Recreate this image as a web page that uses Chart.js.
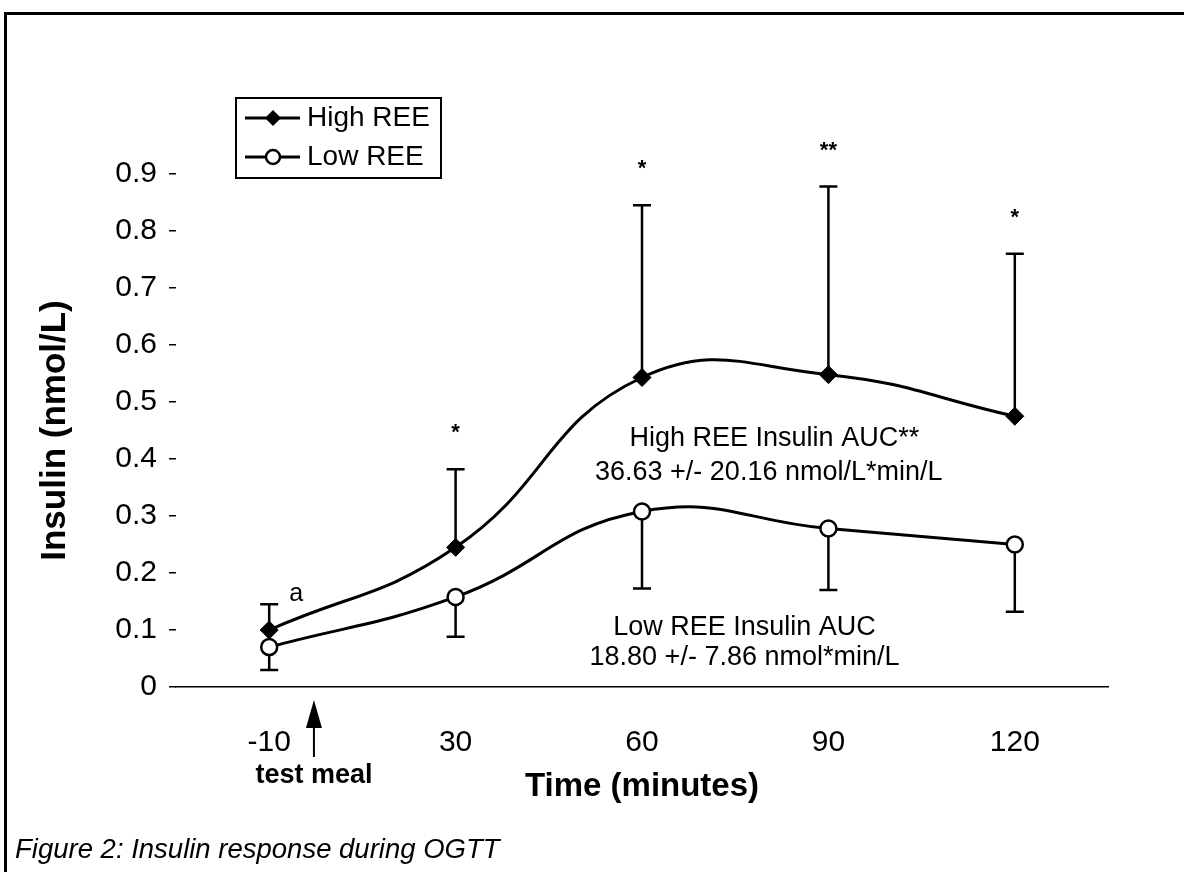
<!DOCTYPE html>
<html>
<head>
<meta charset="utf-8">
<title>Insulin response during OGTT</title>
<script src="https://cdn.jsdelivr.net/npm/chart.js@4.4.1/dist/chart.umd.min.js"></script>
<style>
html, body { margin: 0; padding: 0; background: #fff; overflow: hidden; }
#wrap { position: relative; width: 1184px; height: 872px; }
#insulinChart { display: block; }
</style>
</head>
<body>
<div id="wrap"><canvas id="insulinChart" width="1184" height="872"></canvas></div>
<script>
// values
const TIME_LABELS = ['-10', '30', '60', '90', '120'];
const HIGH_REE = [0.10, 0.245, 0.543, 0.548, 0.475];
const HIGH_REE_SD_UP = [0.145, 0.382, 0.845, 0.878, 0.76];
const LOW_REE = [0.07, 0.158, 0.308, 0.278, 0.25];
const LOW_REE_SD_DOWN = [0.03, 0.088, 0.173, 0.17, 0.132];
const SIG_MARKS = ['a', '*', '*', '**', '*'];
const Y_TICKS = [0, 0.1, 0.2, 0.3, 0.4, 0.5, 0.6, 0.7, 0.8, 0.9];
const AUC_HIGH = ['High REE Insulin AUC**', '36.63 +/- 20.16 nmol/L*min/L'];
const AUC_LOW = ['Low REE Insulin AUC', '18.80 +/- 7.86 nmol*min/L'];
const MEAL_LABEL = 'test meal';
const CAPTION = 'Figure 2: Insulin response during OGTT';

const FONT = "'Liberation Sans', Arial, Helvetica, sans-serif";
Chart.defaults.font.family = FONT;
Chart.defaults.color = '#000';

// page frame (top + left rule) and white background
const framePlugin = {
  id: 'frame',
  beforeDraw(chart) {
    const ctx = chart.ctx;
    ctx.save();
    ctx.fillStyle = '#fff';
    ctx.fillRect(0, 0, chart.width, chart.height);
    ctx.strokeStyle = '#000';
    ctx.lineWidth = 3;
    ctx.beginPath();
    ctx.moveTo(5.5, chart.height);
    ctx.lineTo(5.5, 13.5);
    ctx.lineTo(chart.width + 5, 13.5);
    ctx.stroke();
    ctx.restore();
  }
};

// one-sided SD bars, drawn under the lines and markers
const errorBarPlugin = {
  id: 'errorBars',
  beforeDatasetsDraw(chart) {
    const ctx = chart.ctx;
    const yScale = chart.scales.y;
    ctx.save();
    ctx.strokeStyle = '#000';
    ctx.lineWidth = 2.5;
    chart.data.datasets.forEach((ds, di) => {
      const meta = chart.getDatasetMeta(di);
      ds.errEnds.forEach((v, i) => {
        const pt = meta.data[i];
        const yEnd = yScale.getPixelForValue(v);
        ctx.beginPath();
        ctx.moveTo(pt.x, pt.y);
        ctx.lineTo(pt.x, yEnd);
        ctx.moveTo(pt.x - 9, yEnd);
        ctx.lineTo(pt.x + 9, yEnd);
        ctx.stroke();
      });
    });
    ctx.restore();
  }
};

// significance marks, AUC notes, meal arrow, legend box, caption
const notesPlugin = {
  id: 'notes',
  afterDraw(chart) {
    const ctx = chart.ctx;
    const xScale = chart.scales.x;
    const yScale = chart.scales.y;
    const high = chart.getDatasetMeta(0);
    ctx.save();
    ctx.fillStyle = '#000';
    ctx.strokeStyle = '#000';

    SIG_MARKS.forEach((m, i) => {
      const x = high.data[i].x;
      const top = yScale.getPixelForValue(HIGH_REE_SD_UP[i]);
      ctx.textBaseline = 'alphabetic';
      if (m === 'a') {
        ctx.font = '25px ' + FONT;
        ctx.textAlign = 'left';
        ctx.fillText(m, x + 20, top - 3);
      } else {
        ctx.font = 'bold 22px ' + FONT;
        ctx.textAlign = 'center';
        ctx.fillText(m, x, top - 30);
      }
    });

    ctx.font = '27px ' + FONT;
    ctx.textAlign = 'center';
    ctx.textBaseline = 'middle';
    ctx.fillText(AUC_HIGH[0], xScale.getPixelForValue(2.71), yScale.getPixelForValue(0.436));
    ctx.fillText(AUC_HIGH[1], xScale.getPixelForValue(2.68), yScale.getPixelForValue(0.377));
    ctx.fillText(AUC_LOW[0], xScale.getPixelForValue(2.55), yScale.getPixelForValue(0.105));
    ctx.fillText(AUC_LOW[1], xScale.getPixelForValue(2.55), yScale.getPixelForValue(0.051));

    // meal given at t = 0, about a quarter of the way from -10 to 30
    const mx = xScale.getPixelForValue(0.24);
    const b = chart.chartArea.bottom;
    ctx.beginPath();
    ctx.moveTo(mx, b + 13);
    ctx.lineTo(mx - 8, b + 41);
    ctx.lineTo(mx + 8, b + 41);
    ctx.closePath();
    ctx.fill();
    ctx.lineWidth = 2;
    ctx.beginPath();
    ctx.moveTo(mx, b + 38);
    ctx.lineTo(mx, b + 70);
    ctx.stroke();
    ctx.font = 'bold 27px ' + FONT;
    ctx.fillText(MEAL_LABEL, mx, b + 89);

    // legend
    ctx.lineWidth = 2;
    ctx.strokeRect(236, 98, 205, 80);
    const rows = [118, 157];
    chart.data.datasets.forEach((ds, di) => {
      const ry = rows[di];
      ctx.lineWidth = 3;
      ctx.beginPath();
      ctx.moveTo(245, ry);
      ctx.lineTo(300, ry);
      ctx.stroke();
      if (ds.pointStyle === 'rectRot') {
        ctx.beginPath();
        ctx.moveTo(273, ry - 8);
        ctx.lineTo(281, ry);
        ctx.lineTo(273, ry + 8);
        ctx.lineTo(265, ry);
        ctx.closePath();
        ctx.fill();
      } else {
        ctx.beginPath();
        ctx.arc(273, ry, 7, 0, Math.PI * 2);
        ctx.fillStyle = '#fff';
        ctx.fill();
        ctx.lineWidth = 2.5;
        ctx.stroke();
        ctx.fillStyle = '#000';
      }
      ctx.font = '28px ' + FONT;
      ctx.textAlign = 'left';
      ctx.textBaseline = 'middle';
      ctx.fillText(ds.label, 307, ry);
    });

    ctx.font = 'italic 27.5px ' + FONT;
    ctx.textAlign = 'left';
    ctx.textBaseline = 'middle';
    ctx.fillText(CAPTION, 15, 850);

    // keep the right edge open (no side rule in the figure)
    ctx.fillStyle = '#fff';
    ctx.fillRect(chart.width - 4, 16, 4, chart.height - 16);
    ctx.restore();
  }
};

const ctx = document.getElementById('insulinChart').getContext('2d');
const insulinChart = new Chart(ctx, {
  type: 'line',
  data: {
    labels: TIME_LABELS,
    datasets: [
      {
        label: 'High REE',
        data: HIGH_REE,
        errEnds: HIGH_REE_SD_UP,
        borderColor: '#000',
        backgroundColor: '#000',
        borderWidth: 3,
        tension: 0.45,
        pointStyle: 'rectRot',
        pointRadius: 9,
        pointBorderWidth: 1,
        pointBackgroundColor: '#000',
        pointBorderColor: '#000'
      },
      {
        label: 'Low REE',
        data: LOW_REE,
        errEnds: LOW_REE_SD_DOWN,
        borderColor: '#000',
        backgroundColor: '#fff',
        borderWidth: 3,
        tension: 0.45,
        pointStyle: 'circle',
        pointRadius: 8,
        pointBorderWidth: 2.5,
        pointBackgroundColor: '#fff',
        pointBorderColor: '#000'
      }
    ]
  },
  options: {
    responsive: false,
    animation: false,
    devicePixelRatio: 1,
    layout: { padding: { left: 20, right: 76, top: 174, bottom: 0 } },
    plugins: {
      legend: { display: false },
      title: { display: false },
      tooltip: { enabled: false }
    },
    scales: {
      x: {
        offset: true,
        grid: { display: false },
        border: { display: true, color: '#000', width: 1.5 },
        ticks: { padding: 30, font: { size: 30 }, color: '#000' },
        title: {
          display: true,
          text: 'Time (minutes)',
          font: { size: 33, weight: 'bold' },
          color: '#000',
          padding: { top: 0, bottom: 65 }
        },
        afterFit(scale) { scale.height = 185; }
      },
      y: {
        min: 0,
        max: 0.9,
        afterBuildTicks(scale) { scale.ticks = Y_TICKS.map(v => ({ value: v })); },
        grid: {
          drawOnChartArea: false,
          drawTicks: true,
          tickLength: 7,
          color: '#000',
          lineWidth: 1.5
        },
        border: { display: false },
        ticks: {
          padding: 12,
          font: { size: 30 },
          color: '#000',
          callback: v => String(Math.round(v * 10) / 10)
        },
        title: {
          display: true,
          text: 'Insulin (nmol/L)',
          font: { size: 35, weight: 'bold' },
          color: '#000',
          padding: { top: 14, bottom: 0 }
        },
        afterFit(scale) { scale.width = 156; }
      }
    }
  },
  plugins: [framePlugin, errorBarPlugin, notesPlugin]
});
</script>
</body>
</html>
